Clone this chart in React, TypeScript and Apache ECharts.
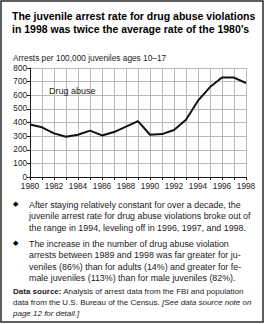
import React, { useEffect, useRef } from "react";
import * as echarts from "echarts";

// Juvenile drug abuse arrest rate per 100,000 juveniles ages 10-17
const years = [1980, 1981, 1982, 1983, 1984, 1985, 1986, 1987, 1988, 1989, 1990, 1991, 1992, 1993, 1994, 1995, 1996, 1997, 1998];
const drugAbuseRates = [385, 365, 320, 295, 310, 340, 305, 330, 370, 410, 310, 315, 345, 420, 560, 660, 730, 730, 690];
const yTicks = [0, 100, 200, 300, 400, 500, 600, 700, 800];
const xLabelYears = [1980, 1982, 1984, 1986, 1988, 1990, 1992, 1994, 1996, 1998];

const titleLines = [
  "The juvenile arrest rate for drug abuse violations",
  "in 1998 was twice the average rate of the 1980\u2019s",
];
const axisCaption = "Arrests per 100,000 juveniles ages 10\u201317";
const seriesLabel = "Drug abuse";
const bulletOne = [
  "After staying relatively constant for over a decade, the",
  "juvenile arrest rate for drug abuse violations broke out of",
  "the range in 1994, leveling off in 1996, 1997, and 1998.",
];
const bulletTwo = [
  "The increase in the number of drug abuse violation",
  "arrests between 1989 and 1998 was far greater for ju-",
  "veniles (86%) than for adults (14%) and greater for fe-",
  "male juveniles (113%) than for male juveniles (82%).",
];
const sourceLines = [
  "{b|Data source:} Analysis of arrest data from the FBI and population",
  "data from the U.S. Bureau of the Census. {i|[See data source note on}",
  "{i|page 12 for detail.]}",
];

const FONT = "'Liberation Sans', Arial, sans-serif";
const INK = "#1a1a1a";

export default function App() {
  const ref = useRef<HTMLDivElement>(null);

  useEffect(() => {
    document.body.style.margin = "0";
    if (!ref.current) return;
    const chart = echarts.init(ref.current, null, { renderer: "svg" });

    const option = {
      animation: false,
      backgroundColor: "#ffffff",
      textStyle: { fontFamily: FONT },
      grid: { left: 30, top: 68, width: 216, height: 109, containLabel: false },
      xAxis: {
        type: "value",
        min: years[0],
        max: years[years.length - 1],
        interval: 1,
        axisLine: { show: true, lineStyle: { color: INK, width: 1 } },
        axisTick: { show: true, length: 3, lineStyle: { color: INK } },
        splitLine: { show: true, lineStyle: { color: "#b9b9b9", width: 1 } },
        axisLabel: {
          fontSize: 8.3,
          color: INK,
          fontFamily: FONT,
          margin: 5,
          formatter: (v: number) => (xLabelYears.includes(v) ? String(v) : ""),
        },
      },
      yAxis: {
        type: "value",
        min: yTicks[0],
        max: yTicks[yTicks.length - 1],
        interval: 100,
        axisLine: { show: true, lineStyle: { color: INK, width: 1 } },
        axisTick: { show: true, length: 3, lineStyle: { color: INK } },
        splitLine: { show: true, lineStyle: { color: "#b9b9b9", width: 1 } },
        axisLabel: { fontSize: 8.2, color: INK, fontFamily: FONT, margin: 3 },
      },
      series: [
        {
          type: "line",
          data: years.map((y, i) => [y, drugAbuseRates[i]]),
          showSymbol: false,
          lineStyle: { color: "#111111", width: 2 },
          z: 5,
        },
      ],
      graphic: [
        {
          type: "rect",
          shape: { x: 1, y: 1, width: 262, height: 321 },
          style: { fill: "none", stroke: "#2a2a2a", lineWidth: 1.5 },
          silent: true,
        },
        {
          type: "text",
          x: 12,
          y: 9,
          style: {
            text: titleLines.join("\n"),
            font: `bold 10.5px ${FONT}`,
            fill: "#000",
            lineHeight: 13,
            verticalAlign: "top",
          },
        },
        {
          type: "text",
          x: 13,
          y: 54,
          style: { text: axisCaption, font: `8.3px ${FONT}`, fill: INK, verticalAlign: "top" },
        },
        {
          type: "text",
          x: 49,
          y: 86,
          style: { text: seriesLabel, font: `9px ${FONT}`, fill: INK, verticalAlign: "top" },
          z: 10,
        },
        {
          type: "text",
          x: 13,
          y: 200,
          style: { text: "\u25C6", font: `7px ${FONT}`, fill: "#000", verticalAlign: "top" },
        },
        {
          type: "text",
          x: 29,
          y: 199,
          style: {
            text: bulletOne.join("\n"),
            font: `8.9px ${FONT}`,
            fill: INK,
            lineHeight: 11.5,
            verticalAlign: "top",
          },
        },
        {
          type: "text",
          x: 13,
          y: 239,
          style: { text: "\u25C6", font: `7px ${FONT}`, fill: "#000", verticalAlign: "top" },
        },
        {
          type: "text",
          x: 29,
          y: 238,
          style: {
            text: bulletTwo.join("\n"),
            font: `8.9px ${FONT}`,
            fill: INK,
            lineHeight: 11.5,
            verticalAlign: "top",
          },
        },
        {
          type: "text",
          x: 13,
          y: 286,
          style: {
            text: sourceLines.join("\n"),
            font: `8px ${FONT}`,
            fill: INK,
            lineHeight: 11,
            verticalAlign: "top",
            rich: {
              b: { fontWeight: "bold", fontSize: 8, fontFamily: FONT, fill: INK },
              i: { fontStyle: "italic", fontSize: 8, fontFamily: FONT, fill: INK },
            },
          },
        },
      ],
    };

    chart.setOption(option as any);
    return () => chart.dispose();
  }, []);

  return (
    <div
      ref={ref}
      style={{ position: "absolute", left: 0, top: 0, width: 265, height: 324 }}
    />
  );
}
